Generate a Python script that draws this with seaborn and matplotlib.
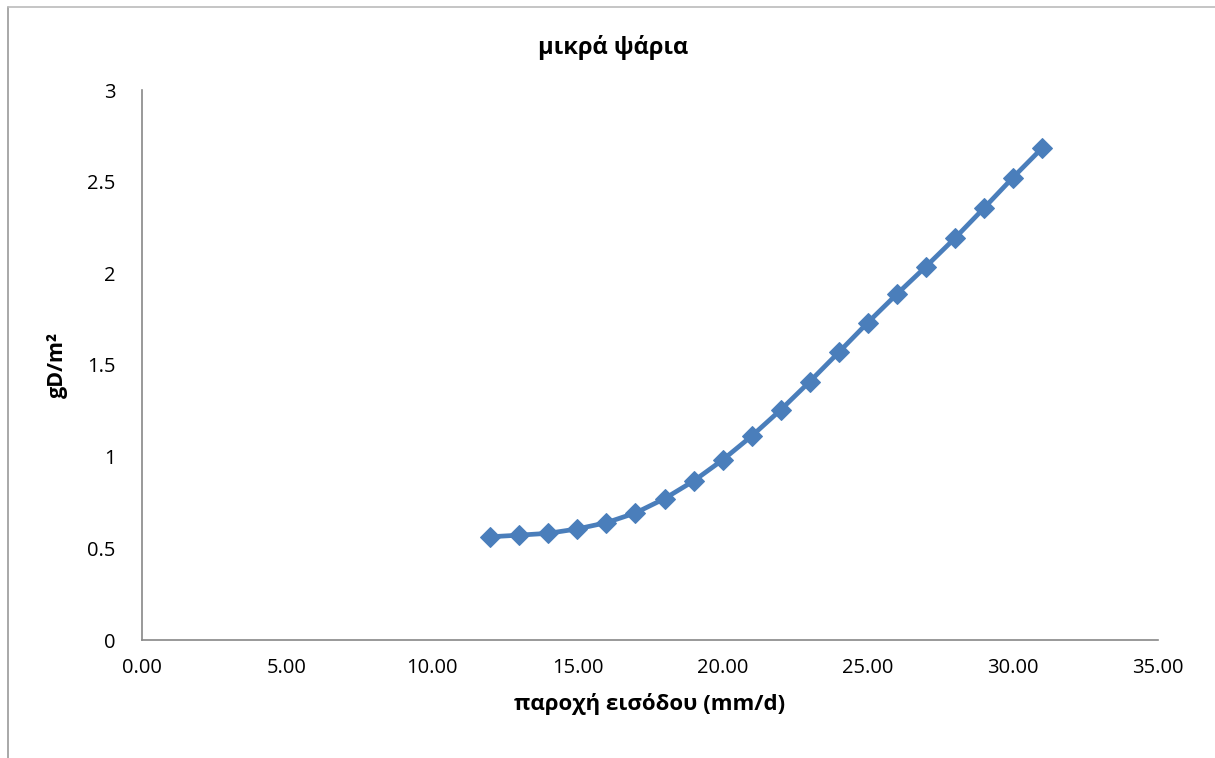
import matplotlib
matplotlib.use("Agg")
import matplotlib.pyplot as plt
from matplotlib.ticker import FuncFormatter
from matplotlib.lines import Line2D
import seaborn as sns
import pandas as pd

# data
inflow = [12, 13, 14, 15, 16, 17, 18, 19, 20, 21,
          22, 23, 24, 25, 26, 27, 28, 29, 30, 31]
gd_m2 = [0.563, 0.572, 0.582, 0.606, 0.640, 0.693, 0.771, 0.867, 0.982, 1.112,
         1.255, 1.409, 1.569, 1.731, 1.886, 2.036, 2.191, 2.355, 2.522, 2.682]
title = "μικρά ψάρια"
x_label = "παροχή εισόδου (mm/d)"
y_label = "gD/m²"

df = pd.DataFrame({"x": inflow, "y": gd_m2})

sns.set_style("white")
plt.rcParams['font.family'] = ['Open Sans', 'Noto Sans', 'DejaVu Sans']

fig = plt.figure(figsize=(12.15, 7.58), dpi=100)
ax = fig.add_axes([142 / 1215, 1 - 640 / 758, (1158 - 142) / 1215, (640 - 90) / 758])

sns.lineplot(data=df, x="x", y="y", ax=ax, color="#4A7EBB", linewidth=3.4,
             marker="D", markersize=10, markeredgecolor="#4A7EBB")

ax.set_xlim(0, 35)
ax.set_ylim(0, 3)
ax.set_xticks([0, 5, 10, 15, 20, 25, 30, 35])
ax.set_yticks([0, 0.5, 1, 1.5, 2, 2.5, 3])
ax.xaxis.set_major_formatter(FuncFormatter(lambda v, _: "%.2f" % v))
ax.yaxis.set_major_formatter(FuncFormatter(lambda v, _: "%g" % v))
ax.tick_params(axis="both", length=0, labelsize=14.5, labelcolor="black", pad=13)
ax.tick_params(axis="y", pad=19)

for s in ["top", "right"]:
    ax.spines[s].set_visible(False)
for s in ["left", "bottom"]:
    ax.spines[s].set_color("#888888")
    ax.spines[s].set_linewidth(1.2)

ax.set_xlabel(x_label, fontsize=16, fontweight="bold", labelpad=11, color="black")
ax.set_ylabel(y_label, fontsize=15.5, fontweight="bold", labelpad=14, color="black")
fig.text(613 / 1215, 1 - 47 / 758, title, fontsize=17, fontweight="bold",
         ha="center", va="center", color="black")

# chart area border (left and top edges visible)
fig.add_artist(Line2D([8 / 1215, 8 / 1215], [0, 1 - 7 / 758], color="#999999", lw=1.2,
                      transform=fig.transFigure))
fig.add_artist(Line2D([8 / 1215, 1], [1 - 7 / 758, 1 - 7 / 758], color="#bbbbbb", lw=1.2,
                      transform=fig.transFigure))

fig.savefig("out.png", dpi=100)
